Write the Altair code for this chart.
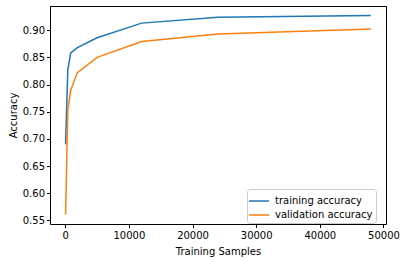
import altair as alt
import pandas as pd

samples = [50, 400, 850, 1900, 5000, 12000, 24000, 48000]
train_acc = [0.690, 0.827, 0.858, 0.868, 0.886, 0.913, 0.924, 0.927]
val_acc = [0.561, 0.753, 0.789, 0.822, 0.850, 0.879, 0.893, 0.902]
series = ["training accuracy", "validation accuracy"]
colors = ["#1f77b4", "#ff7f0e"]
x_ticks = [0, 10000, 20000, 30000, 40000, 50000]
y_ticks = [0.55, 0.60, 0.65, 0.70, 0.75, 0.80, 0.85, 0.90]

rows = []
for s, vals in zip(series, [train_acc, val_acc]):
    for i, (x, y) in enumerate(zip(samples, vals)):
        rows.append({"samples": x, "acc": y, "series": s, "order": i})
df = pd.DataFrame(rows)

font = "DejaVu Sans"

chart = alt.Chart(df).mark_line(strokeWidth=1.5).encode(
    x=alt.X("samples:Q", title="Training Samples",
            scale=alt.Scale(domain=[-2400, 50400], nice=False, zero=False),
            axis=alt.Axis(values=x_ticks, format="d", grid=False, domain=False,
                          tickColor="black", tickSize=3.5, labelPadding=3,
                          labelFontSize=10, labelColor="black", labelFont=font,
                          titleFont=font, titleFontSize=10, titleFontWeight="normal",
                          titleColor="black", titlePadding=6)),
    y=alt.Y("acc:Q", title="Accuracy",
            scale=alt.Scale(domain=[0.5435, 0.9445], nice=False, zero=False),
            axis=alt.Axis(values=y_ticks, format=".2f", grid=False, domain=False,
                          tickColor="black", tickSize=3.5, labelPadding=2,
                          labelFontSize=10, labelColor="black", labelFont=font,
                          titleFont=font, titleFontSize=10, titleFontWeight="normal",
                          titleColor="black", titlePadding=4)),
    color=alt.Color("series:N", scale=alt.Scale(domain=series, range=colors),
                    legend=alt.Legend(title=None, orient="none", legendX=197, legendY=183,
                                      symbolType="M-1.25,0H1.25", symbolStrokeWidth=1.5,
                                      symbolSize=256, symbolOffset=0, labelOffset=7,
                                      labelFont=font, labelFontSize=10,
                                      labelColor="black", strokeColor="#cccccc",
                                      fillColor="white", padding=3, cornerRadius=3,
                                      rowPadding=0)),
    order="order:O",
).properties(
    width=336, height=218,
    padding={"left": 50, "top": 6, "right": 19, "bottom": 38},
    autosize=alt.AutoSizeParams(type="none"),
).configure_view(stroke="black", strokeWidth=1)

chart.save("out.html", embed_options={"renderer": "svg", "actions": False})
